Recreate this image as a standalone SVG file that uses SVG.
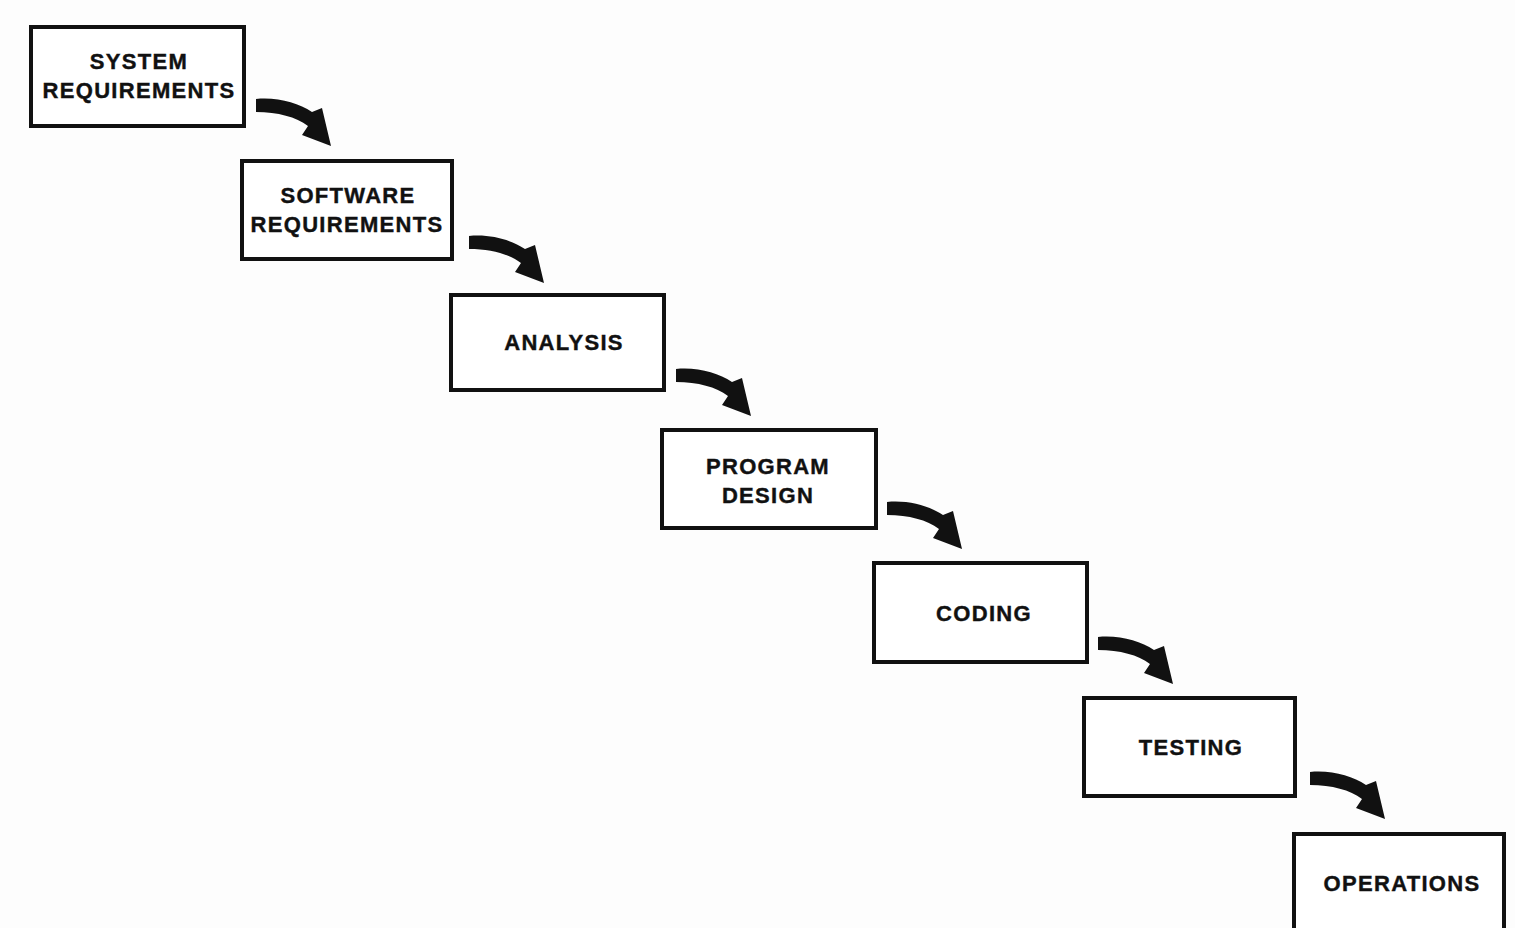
<svg xmlns="http://www.w3.org/2000/svg" xmlns:xlink="http://www.w3.org/1999/xlink" width="1515" height="928" viewBox="0 0 1515 928">
<style>
.box{fill:#fff;stroke:#111;stroke-width:4}
.t{font-family:"Liberation Sans",Arial,sans-serif;font-weight:bold;font-size:22px;letter-spacing:1.3px;fill:#111;text-anchor:middle;stroke:#111;stroke-width:0.4}
.arr{fill:#111}
</style>
<defs>
<path id="arrow" d="M0,0 C22,-2 42,4 56,13 L66,9 L75,47 L46,36 L52,27 C40,18 22,13 0,13 Z"/>
</defs>
<rect width="1515" height="928" fill="#fdfdfd"/>
<g id="n1"><rect class="box" x="31" y="27" width="213" height="99"/><text class="t" x="139" y="69">SYSTEM</text><text class="t" x="139" y="98">REQUIREMENTS</text></g>
<g id="n2"><rect class="box" x="242" y="161" width="210" height="98"/><text class="t" x="348" y="203">SOFTWARE</text><text class="t" x="347" y="232">REQUIREMENTS</text></g>
<g id="n3"><rect class="box" x="451" y="295" width="213" height="95"/><text class="t" x="564" y="350">ANALYSIS</text></g>
<g id="n4"><rect class="box" x="662" y="430" width="214" height="98"/><text class="t" x="768" y="474">PROGRAM</text><text class="t" x="768" y="503">DESIGN</text></g>
<g id="n5"><rect class="box" x="874" y="563" width="213" height="99"/><text class="t" x="984" y="621">CODING</text></g>
<g id="n6"><rect class="box" x="1084" y="698" width="211" height="98"/><text class="t" x="1191" y="755">TESTING</text></g>
<g id="n7"><rect class="box" x="1294" y="834" width="210" height="100"/><text class="t" x="1402" y="891">OPERATIONS</text></g>
<g id="connectors" class="arr">
<use xlink:href="#arrow" x="256" y="99"/>
<use xlink:href="#arrow" x="469" y="236"/>
<use xlink:href="#arrow" x="676" y="369"/>
<use xlink:href="#arrow" x="887" y="502"/>
<use xlink:href="#arrow" x="1098" y="637"/>
<use xlink:href="#arrow" x="1310" y="772"/>
</g>
</svg>
